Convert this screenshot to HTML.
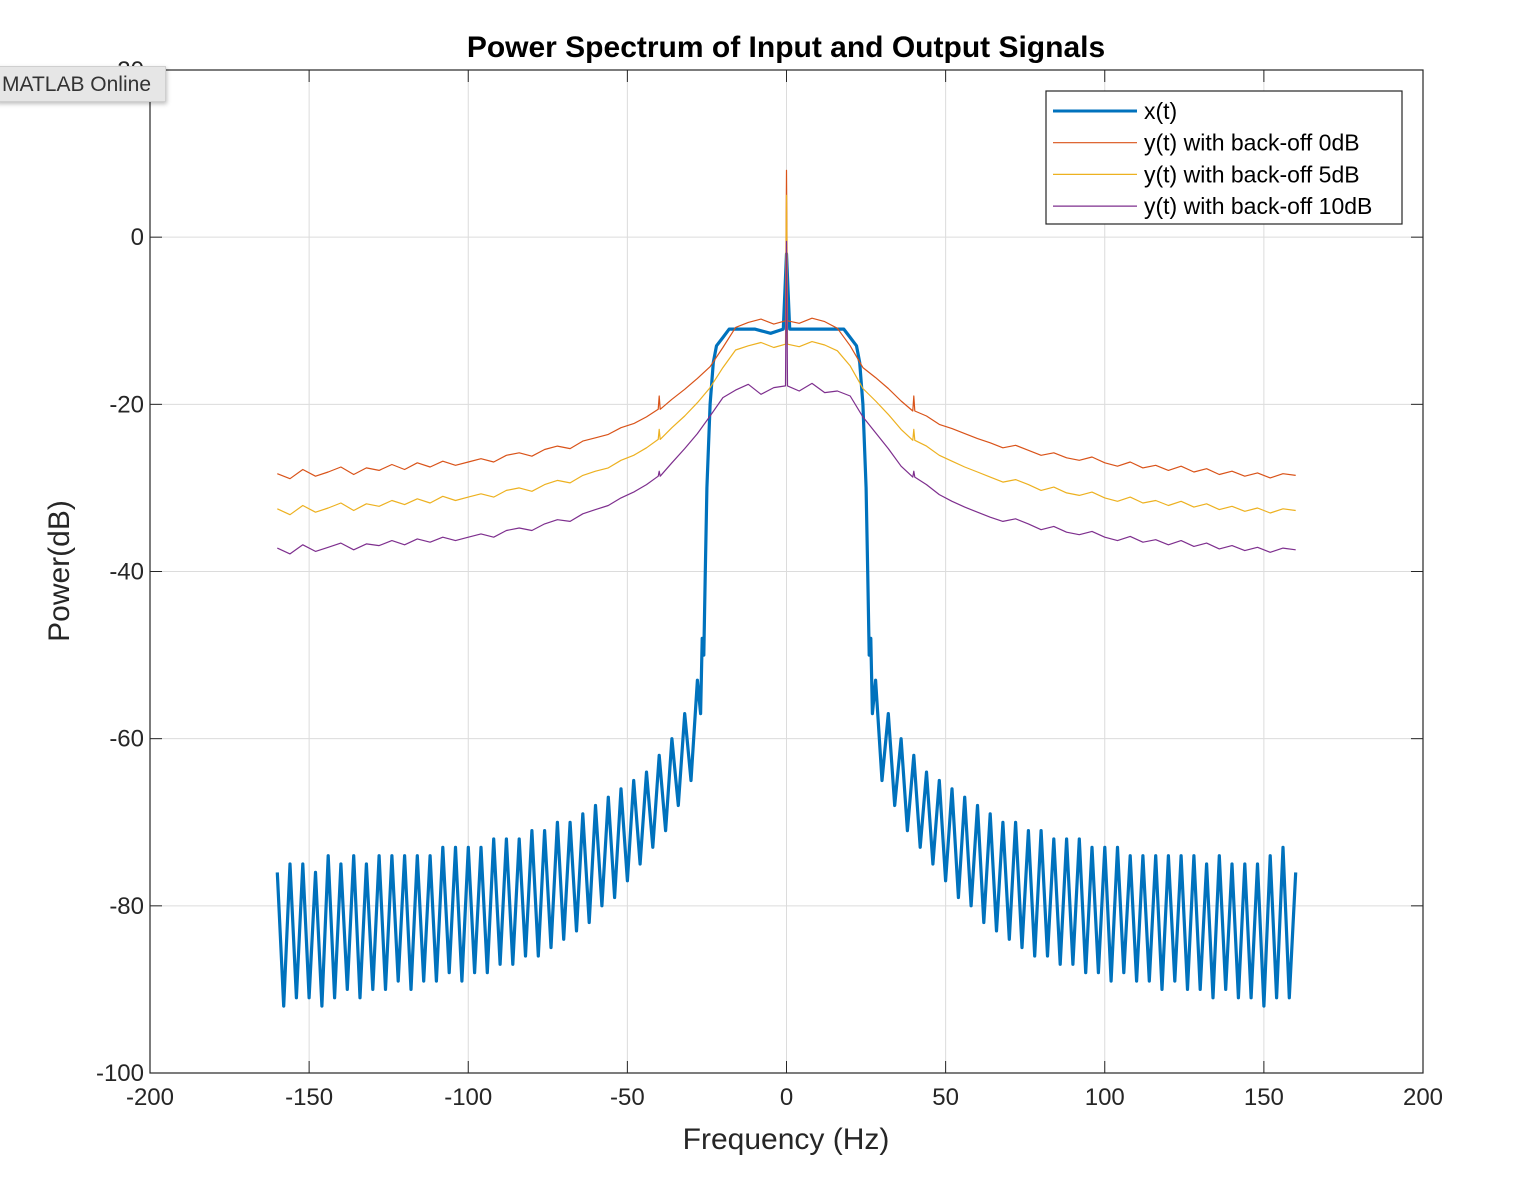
<!DOCTYPE html>
<html><head><meta charset="utf-8">
<style>
html,body{margin:0;padding:0;background:#fff;width:1526px;height:1186px;overflow:hidden;font-family:"Liberation Sans",sans-serif;}
svg{position:absolute;left:0;top:0;}
#badge{position:absolute;left:-4px;top:66px;width:170px;height:36px;background:#e6e6e6;border:1px solid #cfcfcf;box-shadow:1px 2px 4px rgba(0,0,0,0.25);font-size:21px;color:#333;line-height:36px;text-align:right;box-sizing:border-box;padding-right:14px;}
</style></head><body>
<svg id="chart" width="1526" height="1186"></svg>
<div id="badge">MATLAB Online</div>
<script>
const xTicks=[-200,-150,-100,-50,0,50,100,150,200];
const yTicks=[20,0,-20,-40,-60,-80,-100];
const yFreqStart=-160, yFreqStep=4;
const redVals=[-28.3,-28.9,-27.8,-28.6,-28.1,-27.5,-28.4,-27.6,-27.9,-27.2,-27.8,-27.0,-27.5,-26.8,-27.3,-26.9,
-26.5,-26.9,-26.1,-25.8,-26.2,-25.4,-25.0,-25.3,-24.4,-24.0,
-23.6,-22.8,-22.3,-21.5,-20.6,-19.4,-18.2,-16.9,-15.5,-13.2,
-10.8,-10.2,-9.8,-10.4,-10.0,-10.3,-9.7,-10.1,-10.9,
-13.0,-15.6,-16.8,-18.1,-19.6,-20.8,-21.4,-22.4,-22.9,-23.5,
-24.1,-24.6,-25.2,-24.9,-25.5,-26.1,-25.8,-26.4,-26.7,-26.3,
-27.0,-27.4,-26.9,-27.6,-27.3,-27.9,-27.4,-28.1,-27.7,-28.4,-28.0,-28.6,-28.2,-28.8,-28.3,-28.5];
const yellowVals=[-32.5,-33.2,-32.1,-32.9,-32.4,-31.8,-32.7,-31.9,-32.2,-31.5,-32.0,-31.3,-31.8,-31.0,-31.5,-31.1,
-30.7,-31.1,-30.3,-30.0,-30.4,-29.6,-29.1,-29.4,-28.5,-28.0,
-27.6,-26.7,-26.1,-25.2,-24.2,-22.8,-21.4,-19.8,-18.0,-15.6,
-13.5,-13.0,-12.6,-13.2,-12.8,-13.1,-12.5,-12.9,-13.6,
-15.4,-18.1,-19.6,-21.2,-23.0,-24.3,-25.0,-26.1,-26.8,-27.5,
-28.1,-28.7,-29.3,-29.0,-29.6,-30.3,-29.9,-30.6,-30.9,-30.5,
-31.2,-31.6,-31.1,-31.8,-31.5,-32.1,-31.6,-32.3,-31.9,-32.6,-32.2,-32.8,-32.4,-33.0,-32.5,-32.7];
const purpleVals=[-37.2,-37.9,-36.8,-37.6,-37.1,-36.6,-37.4,-36.7,-36.9,-36.3,-36.8,-36.1,-36.5,-35.9,-36.3,-35.9,
-35.5,-35.9,-35.1,-34.8,-35.1,-34.3,-33.8,-34.0,-33.1,-32.6,
-32.1,-31.2,-30.5,-29.6,-28.6,-27.0,-25.3,-23.5,-21.4,-19.2,
-18.3,-17.6,-18.8,-18.0,-17.8,-18.4,-17.5,-18.6,-18.4,
-19.0,-21.5,-23.4,-25.3,-27.4,-28.7,-29.6,-30.8,-31.6,-32.3,
-32.9,-33.5,-34.0,-33.7,-34.3,-35.0,-34.6,-35.3,-35.6,-35.2,
-35.9,-36.3,-35.8,-36.5,-36.2,-36.8,-36.3,-37.0,-36.6,-37.3,-36.9,-37.5,-37.1,-37.7,-37.2,-37.4];
const spikeFreqs=[-40,0,40];
const redSpikes=[-19,8,-19];
const yellowSpikes=[-23,5,-23];
const purpleSpikes=[-28,-0.5,-28];
const blueSideStep=2;
const blueLeftVals=[-76,-92,-75,-91,-75,-91,-76,-92,-74,-91,-75,-90,-74,-91,-75,-90,-74,-90,-74,-89,-74,-90,-74,-89,-74,-89,-73,-88,-73,-89,-73,-88,-73,-88,-72,-87,-72,-87,-72,-86,-71,-86,-71,-85,-70,-84,-70,-83,-69,-82,-68,-80,-67,-79,-66,-77,-65,-75,-64,-73,-62,-71,-60,-68,-57,-65,-53];
const blueCenterFreq=[-27,-26.5,-26,-25.5,-25,-24,-23,-22,-20,-18,-15,-10,-5,-1,0,1,5,10,15,18,20,22,23,24,25,25.5,26,26.5,27];
const blueCenterVals=[-57,-48,-50,-40,-30,-20,-15,-13,-12,-11,-11,-11,-11.5,-11,-2,-11,-11,-11,-11,-11,-12,-13,-15,-20,-30,-40,-50,-48,-57];
const blueRightVals=[-53,-65,-57,-68,-60,-71,-62,-73,-64,-75,-65,-77,-66,-79,-67,-80,-68,-82,-69,-83,-70,-84,-70,-85,-71,-86,-71,-86,-72,-87,-72,-87,-72,-88,-73,-88,-73,-89,-73,-88,-74,-89,-74,-89,-74,-90,-74,-89,-74,-90,-74,-90,-75,-91,-74,-90,-75,-91,-75,-91,-75,-92,-74,-91,-73,-91,-76];

const L=150,R=1423,T=70,B=1073;
const xs=f=>L+(f+200)/400*(R-L);
const ys=v=>T+(20-v)/120*(B-T);
const svg=document.getElementById('chart');
const NS='http://www.w3.org/2000/svg';
function mk(tag,attrs,parent){const e=document.createElementNS(NS,tag);for(const k in attrs)e.setAttribute(k,attrs[k]);(parent||svg).appendChild(e);return e;}

const grid=mk('g',{});


xTicks.forEach(t=>mk('line',{x1:xs(t),x2:xs(t),y1:T,y2:B,stroke:'#dcdcdc','stroke-width':1},grid));
yTicks.forEach(t=>mk('line',{x1:L,x2:R,y1:ys(t),y2:ys(t),stroke:'#dcdcdc','stroke-width':1},grid));

function poly(fr,vals,color,w,name){
  const p=mk('polyline',{points:fr.map((f,i)=>xs(f).toFixed(1)+','+ys(vals[i]).toFixed(1)).join(' '),fill:'none',stroke:color,'stroke-width':w,'stroke-linejoin':'round'});
  
  
  return p;
}
function yFreqs(){return redVals.map((_,i)=>yFreqStart+i*yFreqStep);}
function withSpikes(vals,spikes){
  const fr=[],v=[];
  yFreqs().forEach((f,i)=>{
    const k=spikeFreqs.indexOf(f);
    if(k>=0){fr.push(f-0.3,f,f+0.3);v.push(vals[i],spikes[k],vals[i]);}
    else{fr.push(f);v.push(vals[i]);}
  });
  return [fr,v];
}
const bFr=[],bV=[];
blueLeftVals.forEach((v,i)=>{bFr.push(-160+i*blueSideStep);bV.push(v);});
blueCenterFreq.forEach((f,i)=>{bFr.push(f);bV.push(blueCenterVals[i]);});
blueRightVals.forEach((v,i)=>{bFr.push(28+i*blueSideStep);bV.push(v);});
poly(bFr,bV,'#0072BD',3.2,'series-x-t');
let s=withSpikes(redVals,redSpikes);poly(s[0],s[1],'#D95319',1.2,'series-y-backoff-0db');
s=withSpikes(yellowVals,yellowSpikes);poly(s[0],s[1],'#EDB120',1.2,'series-y-backoff-5db');
s=withSpikes(purpleVals,purpleSpikes);poly(s[0],s[1],'#7E2F8E',1.2,'series-y-backoff-10db');

const box=mk('rect',{x:L,y:T,width:R-L,height:B-T,fill:'none',stroke:'#262626','stroke-width':1.2});


xTicks.forEach(t=>{
  mk('line',{x1:xs(t),x2:xs(t),y1:B,y2:B-12,stroke:'#262626'});
  mk('line',{x1:xs(t),x2:xs(t),y1:T,y2:T+12,stroke:'#262626'});
  const tx=mk('text',{x:xs(t),y:1105,'text-anchor':'middle','font-size':24,fill:'#262626'});
  tx.textContent=t;
  
  
});
yTicks.forEach(t=>{
  mk('line',{x1:L,x2:L+12,y1:ys(t),y2:ys(t),stroke:'#262626'});
  mk('line',{x1:R,x2:R-12,y1:ys(t),y2:ys(t),stroke:'#262626'});
  const tx=mk('text',{x:144,y:ys(t)+8,'text-anchor':'end','font-size':24,fill:'#262626'});
  tx.textContent=t;
  
  
});
const title=mk('text',{x:786,y:57,'text-anchor':'middle','font-size':30,'font-weight':'bold',fill:'#000'});
title.textContent='Power Spectrum of Input and Output Signals';


const xl=mk('text',{x:786,y:1149,'text-anchor':'middle','font-size':30,fill:'#262626'});
xl.textContent='Frequency (Hz)';


const yl=mk('text',{x:0,y:0,'text-anchor':'middle','font-size':30,fill:'#262626',transform:'translate(69,571) rotate(-90)'});
yl.textContent='Power(dB)';



const lg=mk('g',{});


mk('rect',{x:1046,y:91,width:356,height:133,fill:'#fff',stroke:'#262626','stroke-width':1.2},lg);
const legNames=['x(t)','y(t) with back-off 0dB','y(t) with back-off 5dB','y(t) with back-off 10dB'];
const legColors=['#0072BD','#D95319','#EDB120','#7E2F8E'];
const legW=[3,1.2,1.2,1.2];
legNames.forEach((n,i)=>{
  const y=111+i*31.7;
  const g=mk('g',{},lg);
  
  
  mk('line',{x1:1053,x2:1137,y1:y,y2:y,stroke:legColors[i],'stroke-width':legW[i]},g);
  const t=mk('text',{x:1144,y:y+8,'font-size':23,fill:'#000'},g);
  t.textContent=n;
});
</script>
</body></html>
